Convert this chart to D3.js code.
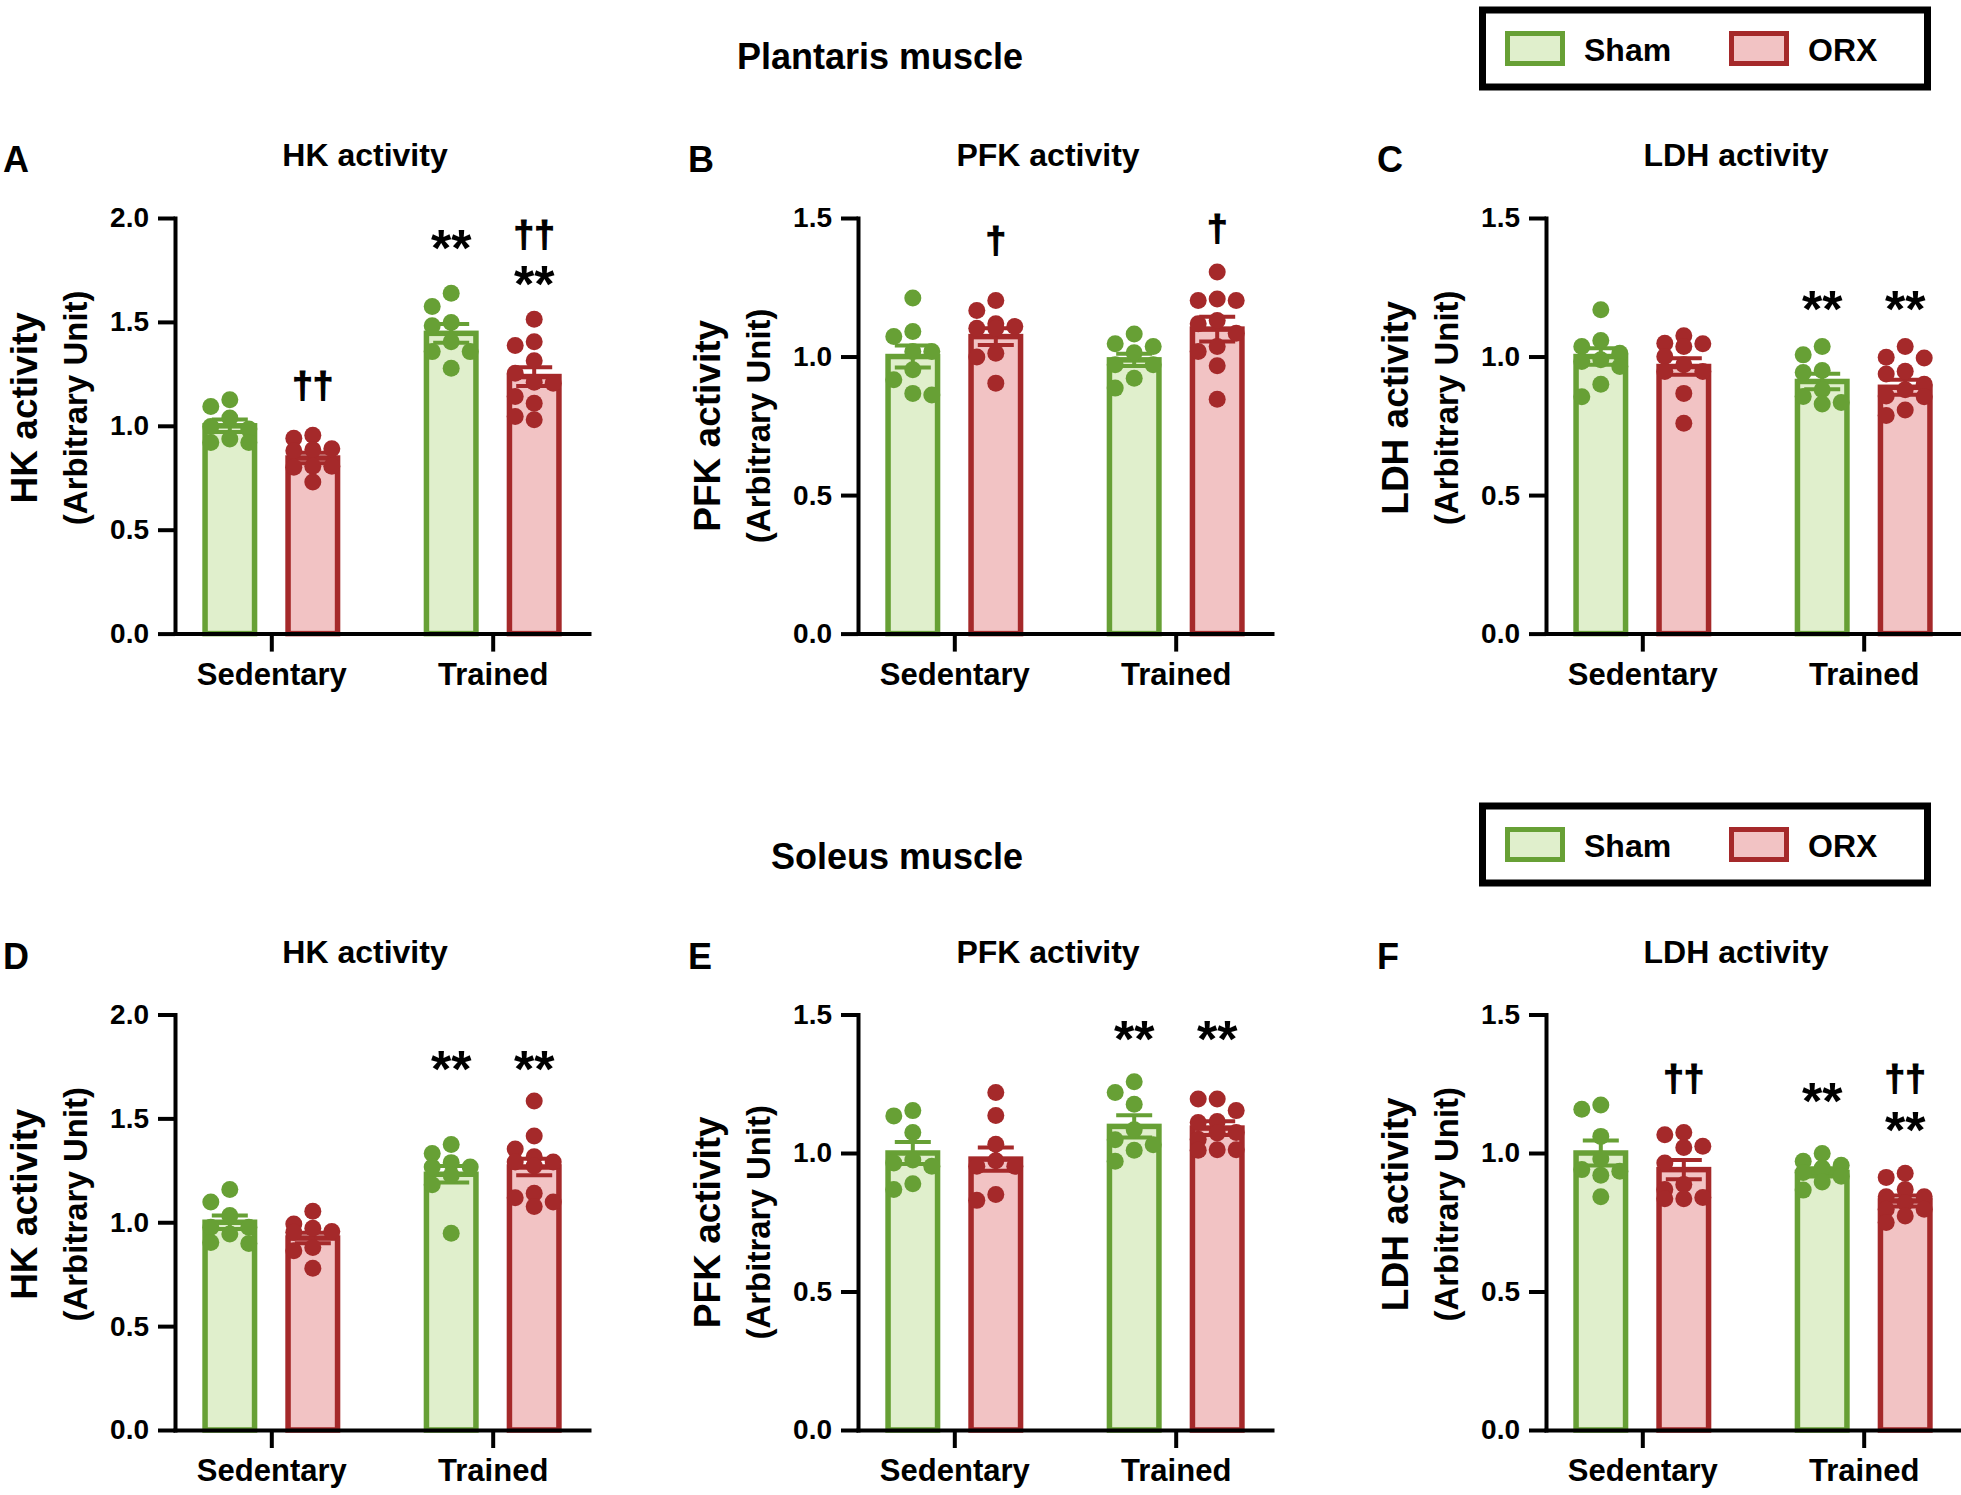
<!DOCTYPE html>
<html>
<head>
<meta charset="utf-8">
<script src="https://cdn.jsdelivr.net/npm/d3@7"></script>
<style>
  html, body { margin: 0; padding: 0; background: #fff; }
  svg { display: block; font-family: "Liberation Sans", Arial, sans-serif; font-weight: bold; }
</style>
</head>
<body>
<svg id="chart" width="1961" height="1495"></svg>
<script>
// ---------------- DATA ----------------
const groups = ["Sedentary", "Trained"];
const series = ["Sham", "ORX"];
const muscles = ["Plantaris muscle", "Soleus muscle"];
const panelLetters = ["A", "B", "C", "D", "E", "F"];
const enzymeTitles = ["HK activity", "PFK activity", "LDH activity"];
const yUnitLabel = "(Arbitrary Unit)";
const hkTicks = [0, 0.5, 1.0, 1.5, 2.0];
const pfkTicks = [0, 0.5, 1.0, 1.5];
const ldhTicks = [0, 0.5, 1.0, 1.5];

// bar order: Sedentary-Sham, Sedentary-ORX, Trained-Sham, Trained-ORX
const plantarisHKMean = [1.00, 0.845, 1.445, 1.237];
const plantarisHKSem = [0.03, 0.025, 0.045, 0.045];
const plantarisHKPoints = [
  [1.125, 1.093, 1.037, 0.997, 0.984, 0.936, 0.92, 0.92],
  [0.955, 0.94, 0.89, 0.885, 0.88, 0.805, 0.80, 0.805, 0.73],
  [1.638, 1.574, 1.497, 1.482, 1.405, 1.357, 1.357, 1.277],
  [1.513, 1.405, 1.386, 1.313, 1.253, 1.205, 1.21, 1.141, 1.109, 1.029, 1.045]
];
const plantarisHKMarks = [[1, "††", 1.186], [2, "**", 1.892], [3, "††", 1.911], [3, "**", 1.719]];

const plantarisPFKMean = [1.00, 1.072, 0.988, 1.099];
const plantarisPFKSem = [0.04, 0.03, 0.022, 0.045];
const plantarisPFKPoints = [
  [1.211, 1.09, 1.072, 1.018, 1.018, 0.952, 0.916, 0.861, 0.867],
  [1.202, 1.166, 1.102, 1.102, 1.108, 1.118, 1.012, 0.998, 0.904],
  [1.081, 1.036, 1.046, 1.014, 0.97, 0.97, 0.922, 0.886],
  [1.305, 1.208, 1.202, 1.202, 1.13, 1.118, 1.084, 1.036, 1.018, 0.967, 0.846]
];
const plantarisPFKMarks = [[1, "†", 1.414], [3, "†", 1.456]];

const plantarisLDHMean = [1.00, 0.964, 0.91, 0.889];
const plantarisLDHSem = [0.03, 0.03, 0.028, 0.027];
const plantarisLDHPoints = [
  [1.169, 1.058, 1.036, 1.012, 0.988, 0.982, 0.964, 0.9, 0.855],
  [1.075, 1.048, 1.046, 1.036, 1.0, 0.97, 0.946, 0.946, 0.867, 0.759],
  [1.036, 1.006, 0.95, 0.942, 0.88, 0.856, 0.834, 0.829],
  [1.036, 0.997, 0.995, 0.947, 0.937, 0.9, 0.88, 0.858, 0.855, 0.807, 0.787]
];
const plantarisLDHMarks = [[2, "**", 1.20], [3, "**", 1.20]];

const soleusHKMean = [1.00, 0.924, 1.231, 1.266];
const soleusHKSem = [0.033, 0.025, 0.04, 0.04];
const soleusHKPoints = [
  [1.158, 1.097, 1.032, 0.976, 0.976, 0.944, 0.903, 0.898],
  [1.053, 0.992, 0.971, 0.955, 0.952, 0.879, 0.863, 0.779],
  [1.374, 1.331, 1.287, 1.266, 1.266, 1.226, 1.181, 0.947],
  [1.584, 1.415, 1.352, 1.315, 1.29, 1.29, 1.271, 1.14, 1.118, 1.097, 1.076]
];
const soleusHKMarks = [[2, "**", 1.776], [3, "**", 1.776]];

const soleusPFKMean = [1.00, 0.978, 1.096, 1.09];
const soleusPFKSem = [0.04, 0.042, 0.04, 0.025];
const soleusPFKPoints = [
  [1.153, 1.134, 1.074, 0.975, 0.964, 0.952, 0.889, 0.868],
  [1.218, 1.135, 1.032, 0.972, 0.952, 0.952, 0.85, 0.829],
  [1.257, 1.218, 1.176, 1.084, 1.048, 1.03, 1.01, 0.97],
  [1.195, 1.195, 1.153, 1.114, 1.11, 1.074, 1.072, 1.05, 1.012, 1.012, 1.01]
];
const soleusPFKMarks = [[2, "**", 1.44], [3, "**", 1.44]];

const soleusLDHMean = [1.00, 0.94, 0.93, 0.827];
const soleusLDHSem = [0.045, 0.035, 0.015, 0.02];
const soleusLDHPoints = [
  [1.173, 1.158, 1.06, 0.978, 0.94, 0.934, 0.92, 0.842],
  [1.074, 1.066, 1.024, 1.02, 0.964, 0.886, 0.868, 0.839, 0.835, 0.835],
  [0.998, 0.97, 0.956, 0.946, 0.93, 0.916, 0.895, 0.866],
  [0.927, 0.912, 0.868, 0.842, 0.842, 0.82, 0.797, 0.797, 0.773, 0.749]
];
const soleusLDHMarks = [[1, "††", 1.263], [2, "**", 1.213], [3, "††", 1.263], [3, "**", 1.111]];

// ---------------- LAYOUT / STYLE ----------------
const colors = {
  Sham: { stroke: "#67A035", fill: "#E0EFCC" },
  ORX:  { stroke: "#A5292A", fill: "#F2C3C4" }
};
const colAxisX = [175, 858, 1546];
const letterX = [3, 688, 1377];
const axisWidth = 414;
const rowTop = [218, 1014.5];
const rowBottom = [633.6, 1430];
const rowOffset = 796;
const yLabelShift = [-18, 0, -18];

const panels = [
  { row: 0, col: 0, ticks: hkTicks,  mean: plantarisHKMean,  sem: plantarisHKSem,  pts: plantarisHKPoints,  marks: plantarisHKMarks },
  { row: 0, col: 1, ticks: pfkTicks, mean: plantarisPFKMean, sem: plantarisPFKSem, pts: plantarisPFKPoints, marks: plantarisPFKMarks },
  { row: 0, col: 2, ticks: ldhTicks, mean: plantarisLDHMean, sem: plantarisLDHSem, pts: plantarisLDHPoints, marks: plantarisLDHMarks },
  { row: 1, col: 0, ticks: hkTicks,  mean: soleusHKMean,  sem: soleusHKSem,  pts: soleusHKPoints,  marks: soleusHKMarks },
  { row: 1, col: 1, ticks: pfkTicks, mean: soleusPFKMean, sem: soleusPFKSem, pts: soleusPFKPoints, marks: soleusPFKMarks },
  { row: 1, col: 2, ticks: ldhTicks, mean: soleusLDHMean, sem: soleusLDHSem, pts: soleusLDHPoints, marks: soleusLDHMarks }
];

const svg = d3.select("#chart");
svg.append("rect").attr("width", 1961).attr("height", 1495).attr("fill", "#fff");

const barOffset = 41.5, barW = 49.5, barStroke = 5.5, dotR = 8.5, capW = 36;

function swarm(vals, yScale) {
  const placed = [];
  const order = vals.map((v, i) => ({ v, i })).sort((a, b) => b.v - a.v);
  const offs = [0, -19, 19];
  order.forEach(p => {
    const py = yScale(p.v);
    let best = 0, bestD = -1;
    for (const o of offs) {
      let minD = Infinity;
      placed.forEach(q => { const d = Math.hypot(q.dx - o, q.y - py); if (d < minD) minD = d; });
      if (minD >= 2 * dotR * 0.95) { best = o; break; }
      if (minD > bestD) { bestD = minD; best = o; }
    }
    placed.push({ dx: best, y: py, v: p.v });
  });
  return placed;
}

panels.forEach((p, pi) => {
  const ax = colAxisX[p.col];
  const yMax = d3.max(p.ticks);
  const y = d3.scaleLinear().domain([0, yMax]).range([rowBottom[p.row], rowTop[p.row]]);
  const x = d3.scalePoint().domain(groups).range([ax, ax + axisWidth]).padding(0.435);
  const g = svg.append("g");

  const bars = [];
  groups.forEach((grp, gi) => series.forEach((s, si) => {
    const k = gi * 2 + si;
    bars.push({ k, s, cx: x(grp) + (si === 0 ? -barOffset : barOffset), mean: p.mean[k], sem: p.sem[k], pts: p.pts[k] });
  }));

  // bars
  g.selectAll("rect.bar").data(bars).join("rect")
    .attr("x", d => d.cx - barW / 2).attr("width", barW)
    .attr("y", d => y(d.mean)).attr("height", d => y(0) - y(d.mean))
    .attr("fill", d => colors[d.s].fill).attr("stroke", d => colors[d.s].stroke)
    .attr("stroke-width", barStroke);

  // error bars
  bars.forEach(d => {
    const c = colors[d.s].stroke;
    const lo = y(d.mean - d.sem), hi = y(d.mean + d.sem);
    g.append("line").attr("x1", d.cx).attr("x2", d.cx).attr("y1", lo).attr("y2", hi)
      .attr("stroke", c).attr("stroke-width", 4);
    [lo, hi].forEach(yy => g.append("line")
      .attr("x1", d.cx - capW / 2).attr("x2", d.cx + capW / 2).attr("y1", yy).attr("y2", yy)
      .attr("stroke", c).attr("stroke-width", 4));
  });

  // dots
  bars.forEach(d => {
    const sw = swarm(d.pts, y);
    g.selectAll(null).data(sw).join("circle")
      .attr("cx", q => d.cx + q.dx).attr("cy", q => q.y).attr("r", dotR)
      .attr("fill", colors[d.s].stroke);
  });

  // axes
  const yAxis = d3.axisLeft(y).tickValues(p.ticks).tickSize(17).tickSizeOuter(0).tickPadding(9)
    .tickFormat(d3.format(".1f"));
  const ya = g.append("g").attr("transform", `translate(${ax},0)`).call(yAxis);
  const xAxis = d3.axisBottom(x).tickSize(18).tickSizeOuter(0).tickPadding(11);
  const xa = g.append("g").attr("transform", `translate(0,${y(0)})`).call(xAxis);
  [ya, xa].forEach(a => {
    a.select(".domain").attr("stroke", "#000").attr("stroke-width", 4).attr("stroke-linecap", "square");
    a.selectAll(".tick line").attr("stroke", "#000").attr("stroke-width", 4);
    a.selectAll("text").attr("fill", "#000").attr("font-family", "Liberation Sans, Arial, sans-serif")
      .attr("font-weight", "bold");
  });
  ya.selectAll("text").attr("font-size", 28);
  xa.selectAll("text").attr("font-size", 31);

  // significance marks
  p.marks.forEach(([k, txt, lvl]) => {
    const b = bars[k];
    const isStar = txt.includes("*");
    const fs = isStar ? 52 : 37;
    const shift = isStar ? 0.49 : 0.29;
    g.append("text").attr("x", b.cx).attr("y", y(lvl) + shift * fs)
      .attr("text-anchor", "middle").attr("font-size", fs).attr("fill", "#000")
      .attr("stroke", isStar ? "none" : "#000").attr("stroke-width", isStar ? 0 : 1.2)
      .text(txt);
  });

  // titles and labels
  const plotMid = (rowTop[p.row] + rowBottom[p.row]) / 2 + yLabelShift[p.col];
  g.append("text").attr("x", ax + 190).attr("y", rowTop[p.row] - 52)
    .attr("text-anchor", "middle").attr("font-size", 32).text(enzymeTitles[p.col]);
  g.append("text").attr("x", letterX[p.col]).attr("y", rowTop[p.row] - 46)
    .attr("font-size", 36).text(panelLetters[pi]);
  g.append("text").attr("transform", `translate(${ax - 138},${plotMid}) rotate(-90)`)
    .attr("text-anchor", "middle").attr("font-size", 37).text(enzymeTitles[p.col]);
  g.append("text").attr("transform", `translate(${ax - 88},${plotMid}) rotate(-90)`)
    .attr("text-anchor", "middle").attr("font-size", 33).text(yUnitLabel);
});

// muscle titles
const titleX = [880, 897];
const titleY = [69, 869];
muscles.forEach((m, i) => svg.append("text").attr("x", titleX[i]).attr("y", titleY[i])
  .attr("text-anchor", "middle").attr("font-size", 36).text(m));

// legends
[0, 1].forEach(r => {
  const lg = svg.append("g").attr("transform", `translate(0,${r * rowOffset})`);
  lg.append("rect").attr("x", 1482.5).attr("y", 10).attr("width", 445).attr("height", 77)
    .attr("fill", "#fff").attr("stroke", "#000").attr("stroke-width", 7);
  const sx = [1507.5, 1731.5];
  const tx = [1584, 1808];
  series.forEach((s, i) => {
    lg.append("rect").attr("x", sx[i]).attr("y", 33.5).attr("width", 55).attr("height", 30)
      .attr("fill", colors[s].fill).attr("stroke", colors[s].stroke).attr("stroke-width", 5);
    lg.append("text").attr("x", tx[i]).attr("y", 61).attr("font-size", 32).text(s);
  });
});
</script>
</body>
</html>
